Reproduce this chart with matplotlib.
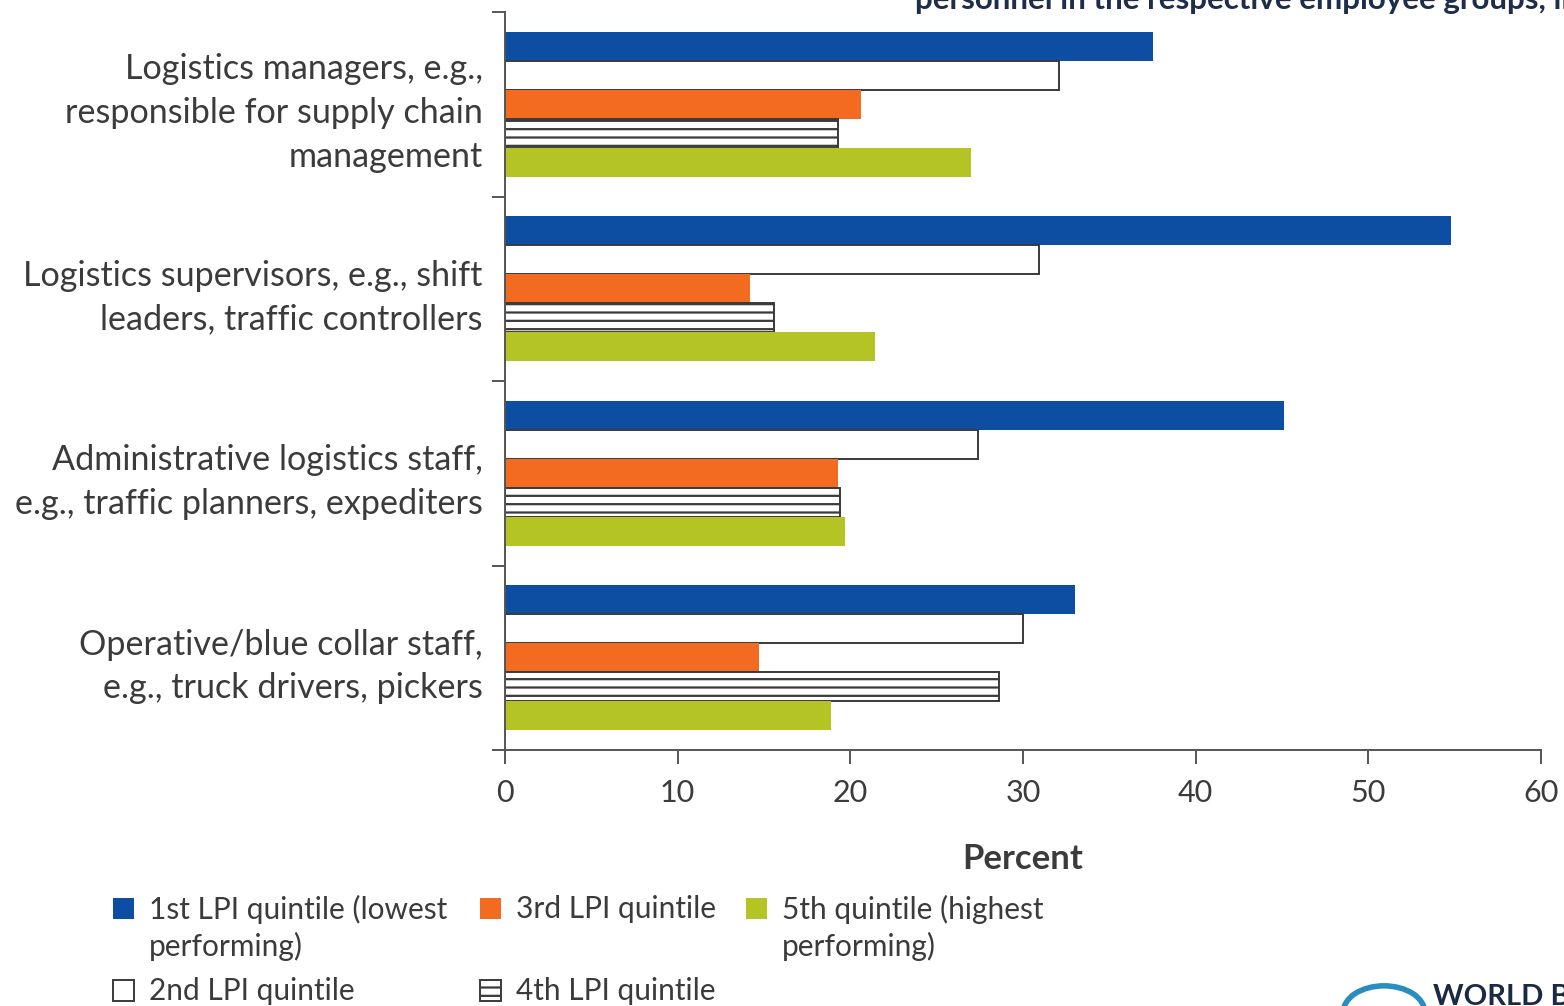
import numpy as np
import matplotlib.pyplot as plt
from matplotlib.patches import Rectangle, Circle

plt.rcParams['font.family'] = ['Lato', 'DejaVu Sans']
plt.rcParams['hatch.linewidth'] = 1.6

# data (percent)
categories = ['Logistics managers, e.g.,\nresponsible for supply chain\nmanagement',
              'Logistics supervisors, e.g., shift\nleaders, traffic controllers',
              'Administrative logistics staff,\ne.g., traffic planners, expediters',
              'Operative/blue collar staff,\ne.g., truck drivers, pickers']
q1 = [37.5, 54.8, 45.1, 33.0]
q2 = [32.1, 30.9, 27.4, 30.0]
q3 = [20.6, 14.2, 19.3, 14.7]
q4 = [19.3, 15.6, 19.4, 28.6]
q5 = [27.0, 21.4, 19.7, 18.9]
series_labels = ['1st LPI quintile (lowest\nperforming)', '2nd LPI quintile',
                 '3rd LPI quintile', '4th LPI quintile',
                 '5th quintile (highest\nperforming)']

blue = '#0d4ea2'
orange = '#f26b21'
green = '#b5c425'
edge = '#3a3a3a'
txt = '#3b3b3b'

fig = plt.figure(figsize=(15.64, 10.06), dpi=100)
ax = fig.add_axes([505/1564, 1-750/1006, (1541-505)/1564, (750-12)/1006])

y = np.arange(len(categories))
h = 0.157
styles = [dict(color=blue, edgecolor='none'),
          dict(color='white', edgecolor=edge, linewidth=1.4),
          dict(color=orange, edgecolor='none'),
          dict(color='white', edgecolor=edge, linewidth=1.4, hatch='--'),
          dict(color=green, edgecolor='none')]
for i, vals in enumerate([q1, q2, q3, q4, q5]):
    ax.barh(y + (i - 2) * h, vals, height=h, **styles[i])

ax.set_xlim(0, 60)
ax.set_ylim(3.5, -0.5)
ax.set_xticks(np.arange(0, 61, 10))
ax.set_yticks(np.arange(-0.5, 3.6, 1))
ax.set_yticklabels([])
ax.set_yticks(y, minor=True)
ax.set_yticklabels(categories, minor=True, ha='right', fontsize=24.6,
                   color=txt, linespacing=1.45)
ax.tick_params(axis='y', which='minor', length=0, pad=16)
ax.tick_params(axis='y', which='major', length=9.5, width=1.4, color='#555555')
ax.tick_params(axis='x', length=10, width=1.4, color='#555555', pad=11,
               labelsize=22, labelcolor=txt)
for s in ['top', 'right']:
    ax.spines[s].set_visible(False)
for s in ['left', 'bottom']:
    ax.spines[s].set_color('#555555')
    ax.spines[s].set_linewidth(1.4)
ax.set_xlabel('Percent', fontsize=25, fontweight='bold', color=txt, labelpad=26)

# legend drawn by hand to keep the printed layout
W, H = 1564, 1006
leg_fs = 21.5
items = [(113, 908, series_labels[0], styles[0]),
         (113, 990, series_labels[1], styles[1]),
         (480, 908, series_labels[2], styles[2]),
         (480, 990, series_labels[3], styles[3]),
         (746, 908, series_labels[4], styles[4])]
for x0, yc, lab, st in items:
    st = dict(st)
    fc = st.pop('color')
    fig.add_artist(Rectangle((x0/W, 1-(yc+11)/H), 21/W, 21/H, facecolor=fc,
                             transform=fig.transFigure, **st))
    fig.text((x0+36)/W, 1-(yc-13)/H, lab, fontsize=leg_fs, color=txt, va='top',
             ha='left', linespacing=1.32)

# cut-off header and logo at the page edges
fig.text(915/W, 1-9/H, 'personnel in the respective employee groups, in percent',
         fontsize=22.5, fontweight='bold', color='#1f2d4d', va='baseline', ha='left')
fig.text(1433/W, 1-984/H, 'WORLD BANK', fontsize=21, fontweight='bold',
         color='#1a2a44', va='top', ha='left')
fig.add_artist(Circle((1384/W, 1-1012/H), 0.026, transform=fig.transFigure,
                      facecolor='none', edgecolor='#2a8dbf', linewidth=4))

fig.savefig('out.png', dpi=100)
